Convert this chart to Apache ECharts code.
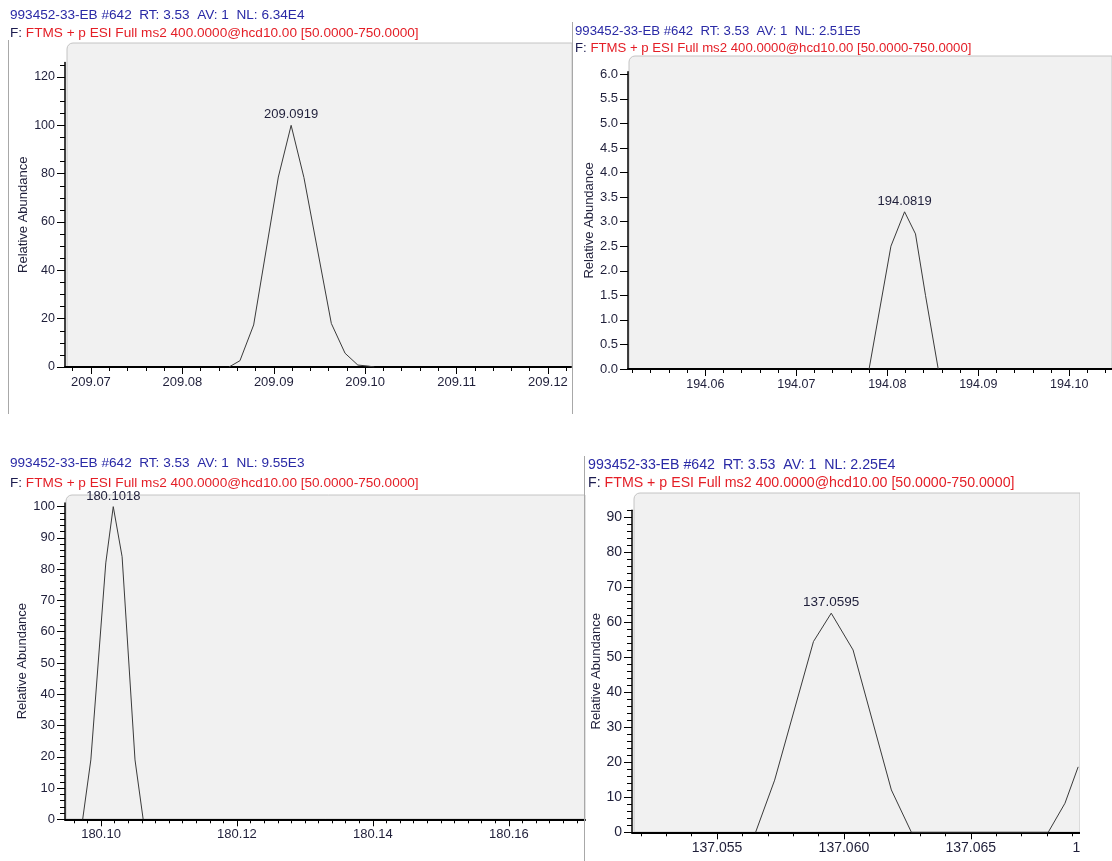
<!DOCTYPE html>
<html>
<head>
<meta charset="utf-8">
<script src="https://cdn.jsdelivr.net/npm/echarts@6/dist/echarts.min.js"></script>
<style>
  html, body { margin: 0; padding: 0; background: #ffffff; }
  #chart { width: 1112px; height: 861px; }
</style>
</head>
<body>
<div id="chart"></div>
<script>
// ---- Scan data -------------------------------------------------------------
const scanHeaders = [
  '993452-33-EB #642  RT: 3.53  AV: 1  NL: 6.34E4',
  '993452-33-EB #642  RT: 3.53  AV: 1  NL: 2.51E5',
  '993452-33-EB #642  RT: 3.53  AV: 1  NL: 9.55E3',
  '993452-33-EB #642  RT: 3.53  AV: 1  NL: 2.25E4'
];
const filterPrefix = 'F:';
const filterText = 'FTMS + p ESI Full ms2 400.0000@hcd10.00 [50.0000-750.0000]';
const yAxisTitle = 'Relative Abundance';

// Profile of the 209.0919 ion
const mzA = [209.0851, 209.0863, 209.0878, 209.0905, 209.0919, 209.0933, 209.0963, 209.0978, 209.0992, 209.1003, 209.1010];
const abundA = [0, 2.6, 17.4, 78.6, 100, 78.4, 18.0, 5.7, 0.8, 0.4, 0];
const xLabelsA = [209.07, 209.08, 209.09, 209.10, 209.11, 209.12];
const yLabelsA = [0, 20, 40, 60, 80, 100, 120];

// Profile of the 194.0819 ion
const mzB = [194.0780, 194.0804, 194.0819, 194.0831, 194.0842, 194.0856];
const abundB = [0, 2.5, 3.2, 2.75, 1.5, 0];
const xLabelsB = [194.06, 194.07, 194.08, 194.09, 194.10];
const yLabelsB = [0, 0.5, 1.0, 1.5, 2.0, 2.5, 3.0, 3.5, 4.0, 4.5, 5.0, 5.5, 6.0];

// Profile of the 180.1018 ion
const mzC = [180.0973, 180.0985, 180.1007, 180.1018, 180.1031, 180.1050, 180.1062];
const abundC = [0, 19, 82, 100, 84, 19, 0];
const xLabelsC = [180.10, 180.12, 180.14, 180.16];
const yLabelsC = [0, 10, 20, 30, 40, 50, 60, 70, 80, 90, 100];

// Profile of the 137.0595 ion and the rising edge of the next one
const mzD = [137.05652, 137.05727, 137.05880, 137.0595, 137.06036, 137.06187, 137.06266, 137.06805, 137.06871, 137.06923];
const abundD = [0, 14.9, 54.5, 62.6, 52.1, 12.1, 0, 0, 8.3, 18.7];
const xLabelsD = [137.055, 137.060, 137.065, 137.070];
const yLabelsD = [0, 10, 20, 30, 40, 50, 60, 70, 80, 90];

// ---- Layout ----------------------------------------------------------------
const FONT = '"Liberation Sans", Arial, sans-serif';
const INK = '#1f1f3a';

// evenly spaced minor tick positions between two bounds
function steps(from, to, step, digits) {
  const out = [];
  const n = Math.round((to - from) / step);
  for (let i = 0; i <= n; i++) out.push(+(from + i * step).toFixed(digits));
  return out;
}

const panels = [
  {
    mz: mzA, ab: abundA, xLabels: xLabelsA, yLabels: yLabelsA,
    xMinor: steps(209.068, 209.122, 0.002, 4), yMinor: steps(0, 125, 5, 0),
    xDigits: 2, yDigits: 0,
    grid: { left: 65, top: 62.5, width: 506, height: 304.5 },
    xRange: [209.06716, 209.12252], yRange: [0, 126],
    bg: { x: 67, y: 43, width: 505, height: 324 },
    head: { x: 10, y1: 15, y2: 33, size: 13.6 },
    labelSize: 13, tickFont: 13, yFont: 12.5, nameX: 25
  },
  {
    mz: mzB, ab: abundB, xLabels: xLabelsB, yLabels: yLabelsB,
    xMinor: steps(194.052, 194.104, 0.002, 4), yMinor: [],
    xDigits: 2, yDigits: 1,
    grid: { left: 628, top: 71.8, width: 484, height: 297.2 },
    xRange: [194.0515, 194.1047], yRange: [0, 6.05],
    bg: { x: 629, y: 56, width: 483, height: 313 },
    head: { x: 575, y1: 31, y2: 48, size: 13.2 },
    labelSize: 13, tickFont: 12.5, yFont: 13, nameX: 589
  },
  {
    mz: mzC, ab: abundC, xLabels: xLabelsC, yLabels: yLabelsC,
    xMinor: steps(180.096, 180.170, 0.002, 4), yMinor: steps(0, 100, 2, 0),
    xDigits: 2, yDigits: 0,
    grid: { left: 65, top: 502.9, width: 520, height: 316.4 },
    xRange: [180.0947, 180.1712], yRange: [0, 101.2],
    bg: { x: 66, y: 495, width: 519, height: 324 },
    head: { x: 10, y1: 463, y2: 483, size: 13.6 },
    labelSize: 13, tickFont: 13, yFont: 13, nameX: 24
  },
  {
    mz: mzD, ab: abundD, xLabels: xLabelsD, yLabels: yLabelsD,
    xMinor: steps(137.052, 137.070, 0.001, 4), yMinor: steps(0, 92, 2, 0),
    xDigits: 3, yDigits: 0,
    grid: { left: 632, top: 510.3, width: 465.7, height: 322 },
    xRange: [137.05165, 137.070], yRange: [0, 92],
    bg: { x: 634, y: 493, width: 446, height: 339 },
    head: { x: 588, y1: 465, y2: 483, size: 14.2 },
    labelSize: 13.5, tickFont: 14, yFont: 14, nameX: 599
  }
];

const grids = [], xAxes = [], yAxes = [], series = [], graphics = [];

panels.forEach((p, i) => {
  grids.push(Object.assign({ containLabel: false, outerBoundsMode: 'none' }, p.grid));

  // main x axis: line, long ticks, labels
  xAxes.push({
    type: 'value', gridIndex: i, min: p.xRange[0], max: p.xRange[1],
    position: 'bottom',
    axisLine: { show: true, onZero: false, lineStyle: { color: '#000', width: 2 } },
    axisTick: { show: true, length: 7, customValues: p.xLabels, lineStyle: { color: '#000', width: 1 } },
    axisLabel: {
      show: true, customValues: p.xLabels, margin: 9, hideOverlap: false,
      color: INK, fontFamily: FONT, fontSize: p.tickFont,
      formatter: v => v.toFixed(p.xDigits)
    },
    splitLine: { show: false }
  });
  // companion x axis carrying the short minor ticks
  xAxes.push({
    type: 'value', gridIndex: i, min: p.xRange[0], max: p.xRange[1],
    position: 'bottom',
    axisLine: { show: false, onZero: false },
    axisTick: { show: true, length: 4, customValues: p.xMinor, lineStyle: { color: '#000', width: 1 } },
    axisLabel: { show: false },
    splitLine: { show: false }
  });

  yAxes.push({
    type: 'value', gridIndex: i, min: p.yRange[0], max: p.yRange[1],
    position: 'left',
    name: yAxisTitle, nameLocation: 'middle', nameRotate: 90,
    nameGap: p.grid.left - p.nameX - 7,
    nameTextStyle: { color: INK, fontFamily: FONT, fontSize: 13 },
    axisLine: { show: true, onZero: false, lineStyle: { color: '#000', width: 1.5 } },
    axisTick: { show: true, length: 8, customValues: p.yLabels, lineStyle: { color: '#000', width: 1 } },
    axisLabel: {
      show: true, customValues: p.yLabels, margin: 10,
      color: INK, fontFamily: FONT, fontSize: p.yFont,
      formatter: v => v.toFixed(p.yDigits)
    },
    splitLine: { show: false }
  });
  yAxes.push({
    type: 'value', gridIndex: i, min: p.yRange[0], max: p.yRange[1],
    position: 'left',
    axisLine: { show: false, onZero: false },
    axisTick: { show: p.yMinor.length > 0, length: 5, customValues: p.yMinor.length ? p.yMinor : [0], lineStyle: { color: '#000', width: 1 } },
    axisLabel: { show: false },
    splitLine: { show: false }
  });

  // apex of the profile gets its m/z printed above it
  let apex = 0;
  p.ab.forEach((v, k) => { if (v > p.ab[apex]) apex = k; });
  const data = p.mz.map((m, k) => {
    const item = { value: [m, p.ab[k]] };
    if (k === apex) {
      item.label = {
        show: true, position: 'top', distance: 4,
        color: INK, fontFamily: FONT, fontSize: p.labelSize,
        formatter: q => q.value[0].toFixed(4)
      };
    }
    return item;
  });
  series.push({
    type: 'line', xAxisIndex: 2 * i, yAxisIndex: 2 * i,
    data: data, symbol: 'circle', symbolSize: 0, showSymbol: true,
    lineStyle: { color: '#3a3a3a', width: 1 },
    label: { show: false }, emphasis: { disabled: true },
    clip: true, silent: true, z: 3
  });

  // plot background panel
  graphics.push({
    type: 'rect', z: -5,
    shape: { x: p.bg.x, y: p.bg.y, width: p.bg.width, height: p.bg.height, r: [6, 0, 0, 0] },
    style: { fill: '#f1f1f1', stroke: '#c4c4c4', lineWidth: 1 }
  });

  // scan header and filter line
  graphics.push({
    type: 'text', x: p.head.x, y: p.head.y1, z: 10,
    style: { text: scanHeaders[i], fill: '#2a2aa6', fontFamily: FONT, fontSize: p.head.size, verticalAlign: 'middle' }
  });
  graphics.push({
    type: 'text', x: p.head.x, y: p.head.y2, z: 10,
    style: {
      text: '{k|' + filterPrefix + '} {r|' + filterText + '}',
      fontFamily: FONT, fontSize: p.head.size, verticalAlign: 'middle',
      rich: {
        k: { fill: '#1c1c50', fontFamily: FONT, fontSize: p.head.size },
        r: { fill: '#e41e26', fontFamily: FONT, fontSize: p.head.size }
      }
    }
  });
});

// window frame separators
const frameLines = [
  [8, 40, 8, 414],
  [572, 22, 572, 414],
  [584, 456, 584, 861]
];
frameLines.forEach(l => graphics.push({
  type: 'line', z: 1,
  shape: { x1: l[0] + 0.5, y1: l[1], x2: l[0] + 0.5, y2: l[3] },
  style: { stroke: '#a8a8a8', lineWidth: 1 }
}));

// the lower right window is cut off at its right edge
graphics.push({
  type: 'rect', z: 100, zlevel: 0,
  shape: { x: 1080, y: 486, width: 32, height: 375 },
  style: { fill: '#ffffff' }
});

const chart = echarts.init(document.getElementById('chart'), null, { renderer: 'canvas' });
chart.setOption({
  animation: false,
  backgroundColor: '#ffffff',
  grid: grids,
  xAxis: xAxes,
  yAxis: yAxes,
  series: series,
  graphic: { elements: graphics }
});
</script>
</body>
</html>
